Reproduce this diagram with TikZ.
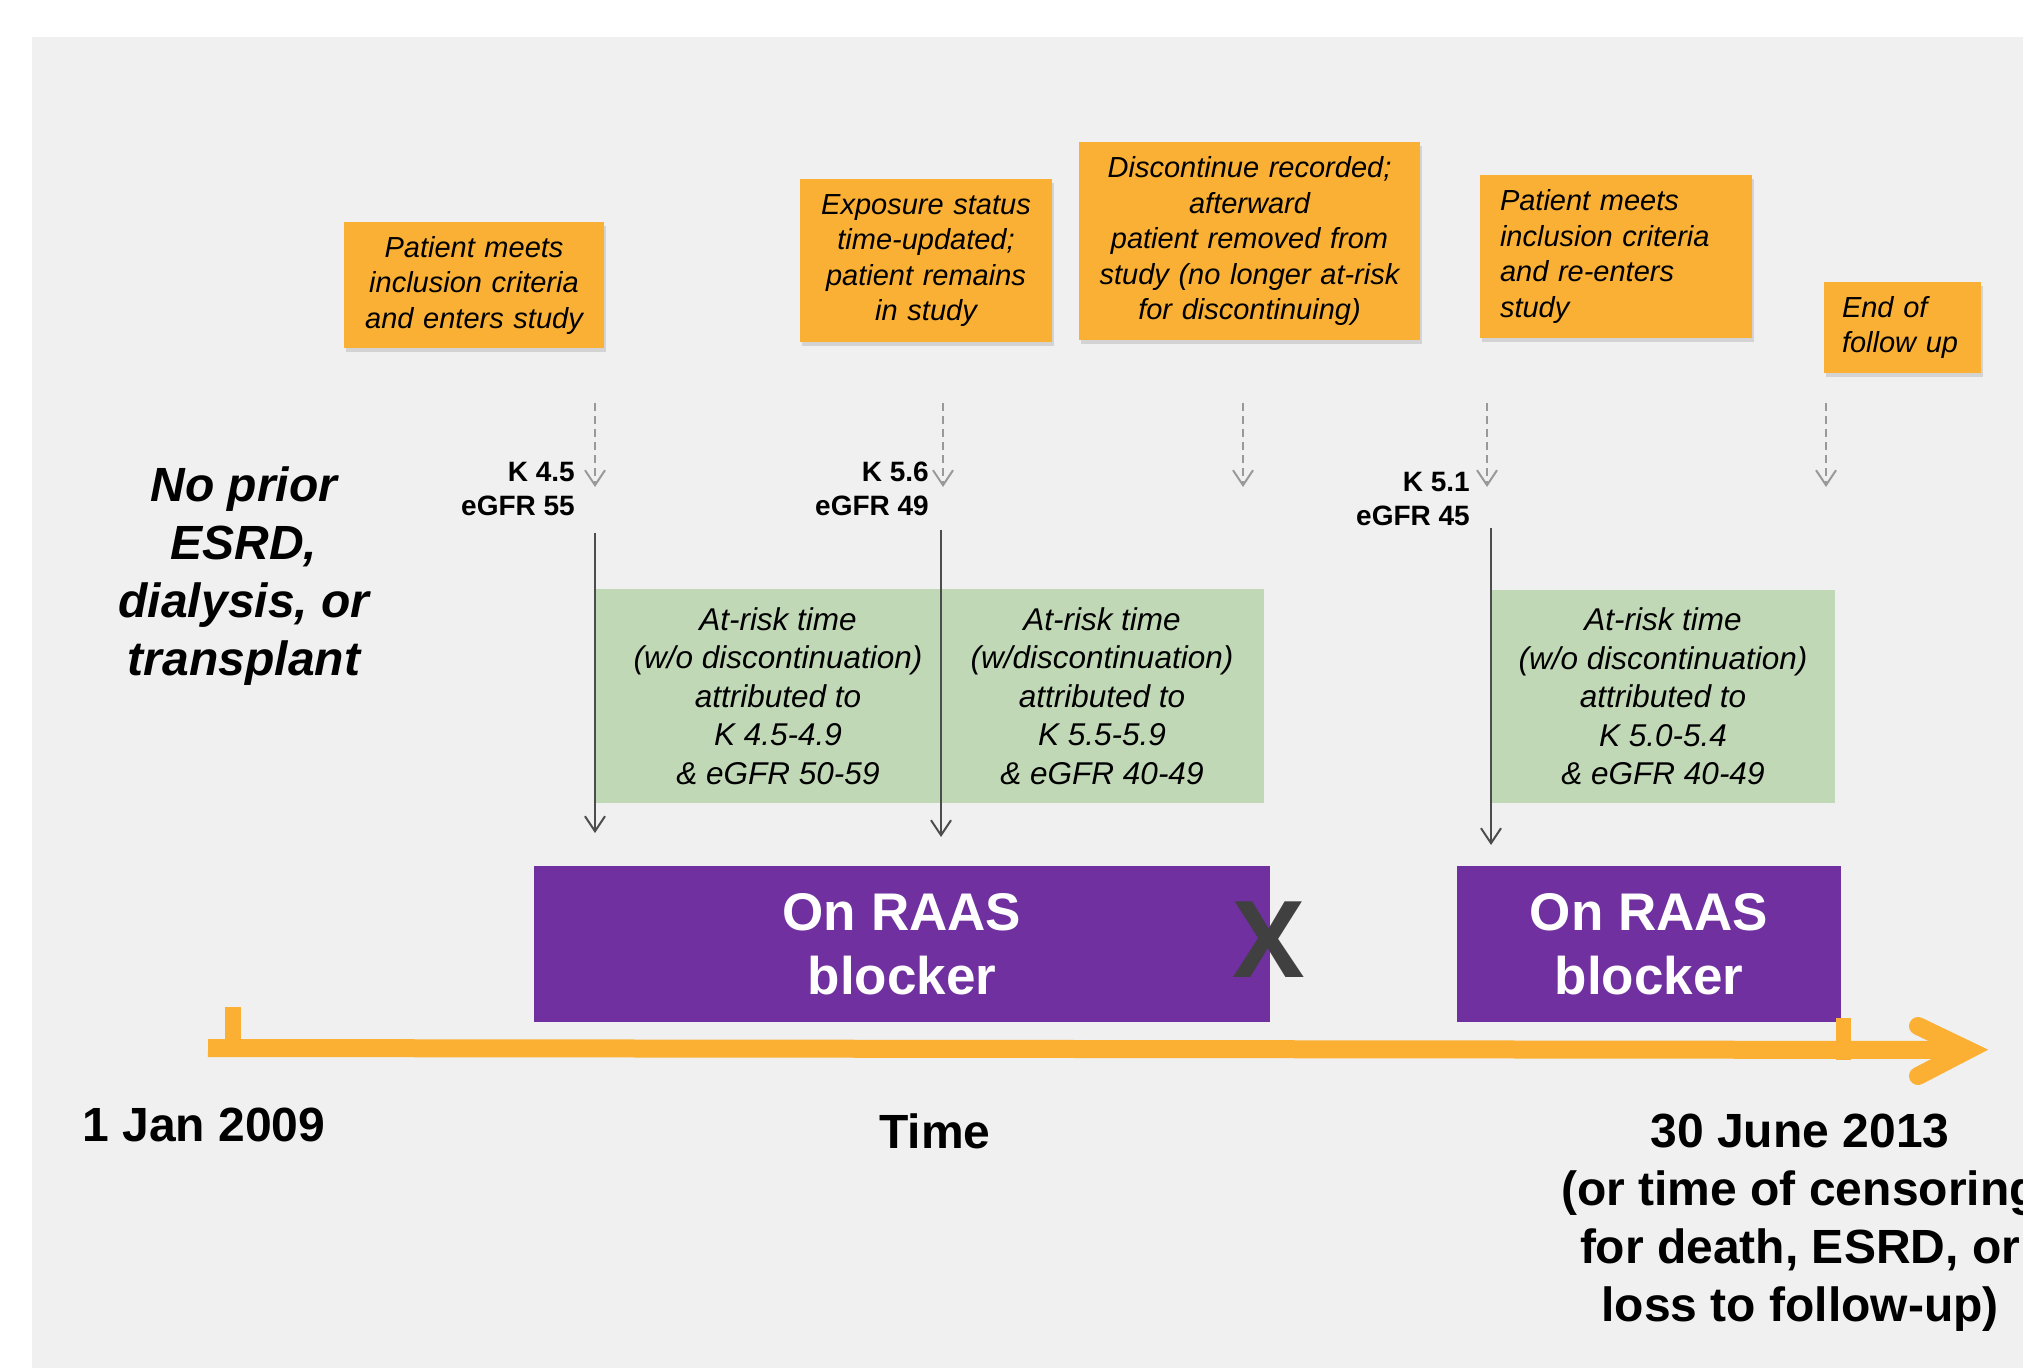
\documentclass[tikz,border=0pt]{standalone}
\usepackage{fontspec}
\setmainfont{Liberation Sans}
\newfontfamily\markfont{Open Sans}
\usepackage{xcolor}
\usetikzlibrary{arrows.meta,shadows}

\definecolor{notebg}{RGB}{250,176,52}
\definecolor{riskbg}{RGB}{193,216,182}
\definecolor{raasbg}{RGB}{112,48,160}
\definecolor{panelbg}{RGB}{240,240,240}
\definecolor{lineorange}{RGB}{251,176,52}

\begin{document}
\begin{tikzpicture}[x=1pt,y=-1pt,
    note/.style={fill=notebg, inner ysep=0pt, inner xsep=10pt, align=center,
      font=\fontsize{29}{35.5}\selectfont\itshape,
      drop shadow={shadow xshift=1.5pt, shadow yshift=-4pt, opacity=0.25}},
    risk/.style={fill=riskbg, inner sep=0pt, align=center,
      font=\fontsize{31.5}{38.5}\selectfont\itshape},
    raas/.style={fill=raasbg, inner sep=0pt, align=center, text=white,
      font=\fontsize{53}{64.5}\selectfont\bfseries},
    lab/.style={inner sep=0pt, anchor=east, align=right,
      font=\fontsize{28}{33.5}\selectfont\bfseries},
    big/.style={inner sep=0pt, align=center,
      font=\fontsize{48}{58}\selectfont\bfseries},
    check/.style={dash pattern=on 8pt off 5pt, line width=2pt,
      black!40, -{Straight Barb[length=15pt,width=20pt,line width=2pt]}},
    attrib/.style={line width=2pt, black!70,
      -{Straight Barb[length=15pt,width=20pt,line width=2pt]}}]

    % Canvas
    \useasboundingbox (0,0) rectangle (2023,1368);
    \fill[white] (0,0) rectangle (2023,1368);
    \fill[panelbg] (32,37) rectangle (2023,1368);

    % Event notes
    \node[note, text width=240pt, minimum height=126pt] (enter) at (474,285)
        {Patient meets\\inclusion criteria\\and enters study};
    \node[note, text width=232pt, minimum height=163pt] (update) at (926,260.5)
        {Exposure status\\time-updated;\\patient remains\\in study};
    \node[note, text width=321pt, minimum height=198pt] (stop) at (1249.5,241)
        {Discontinue recorded;\\afterward\\patient removed from\\study (no longer at-risk\\for discontinuing)};
    \node[note, align=left, inner xsep=20pt, text width=232pt, minimum height=163pt] (reenter) at (1616,256.5)
        {Patient meets\\inclusion criteria\\and re-enters\\study};
    \node[note, align=left, inner xsep=18pt, text width=121pt, minimum height=91pt] (finish) at (1902.5,327.5)
        {End of\\follow up};

    % Lab values
    \node[lab] (lab1) at (575,489) {K 4.5\\eGFR 55};
    \node[lab] (lab2) at (929,489) {K 5.6\\eGFR 49};
    \node[lab] (lab3) at (1470,499) {K 5.1\\eGFR 45};

    % At-risk periods
    \node[risk, minimum width=366pt, minimum height=214pt] (risk1) at (778,696)
        {At-risk time\\(w/o discontinuation)\\attributed to\\K 4.5-4.9\\\& eGFR 50-59};
    \node[risk, minimum width=324pt, minimum height=214pt] (risk2) at (1102,696)
        {At-risk time\\(w/discontinuation)\\attributed to\\K 5.5-5.9\\\& eGFR 40-49};
    \node[risk, minimum width=344pt, minimum height=213pt] (risk3) at (1663,696.5)
        {At-risk time\\(w/o discontinuation)\\attributed to\\K 5.0-5.4\\\& eGFR 40-49};

    % Dashed event markers
    \coordinate (c1a) at (595,403);  \coordinate (c1b) at (595,487);
    \coordinate (c2a) at (943,403);  \coordinate (c2b) at (943,487);
    \coordinate (c3a) at (1243,403); \coordinate (c3b) at (1243,487);
    \coordinate (c4a) at (1487,403); \coordinate (c4b) at (1487,487);
    \coordinate (c5a) at (1826,403); \coordinate (c5b) at (1826,487);
    \draw[check] (c1a) -- (c1b);
    \draw[check] (c2a) -- (c2b);
    \draw[check] (c3a) -- (c3b);
    \draw[check] (c4a) -- (c4b);
    \draw[check] (c5a) -- (c5b);

    % Attribution arrows
    \coordinate (a1a) at (595,533);  \coordinate (a1b) at (595,833);
    \coordinate (a2a) at (941,530);  \coordinate (a2b) at (941,837);
    \coordinate (a3a) at (1491,528); \coordinate (a3b) at (1491,845);
    \draw[attrib] (a1a) -- (a1b);
    \draw[attrib] (a2a) -- (a2b);
    \draw[attrib] (a3a) -- (a3b);

    % Treatment bars
    \node[raas, minimum width=736pt, minimum height=156pt] (raas1) at (902,944) {On RAAS\\blocker};
    \node[raas, minimum width=384pt, minimum height=156pt] (raas2) at (1649,944) {On RAAS\\blocker};
    \node[inner sep=0pt, text=black!75, font=\fontsize{106}{106}\selectfont\markfont\bfseries] (quit) at (1269,940) {X};

    % Time axis
    \coordinate (t0) at (208,1048);
    \coordinate (t1) at (1968,1050);
    \draw[lineorange, line width=18pt] (t0) -- (t1);
    \fill[lineorange] (225,1007) rectangle (241,1048);
    \fill[lineorange] (1836,1018) rectangle (1851,1060);
    \draw[lineorange, line width=18pt, line cap=round, line join=miter]
        (1918,1026) -- (t1) -- (1918,1076);

    % Axis labels
    \node[big] (start) at (204,1125) {1 Jan 2009};
    \node[big] (time) at (935,1131) {Time};
    \node[big, anchor=north] (close) at (1800,1114)
        {30 June 2013\\(or time of censoring\\for death, ESRD, or\\loss to follow-up)};
    \node[big, anchor=north, font=\fontsize{48}{58}\selectfont\bfseries\itshape] (prior) at (244,467)
        {No prior\\ESRD,\\dialysis, or\\transplant};
\end{tikzpicture}
\end{document}
